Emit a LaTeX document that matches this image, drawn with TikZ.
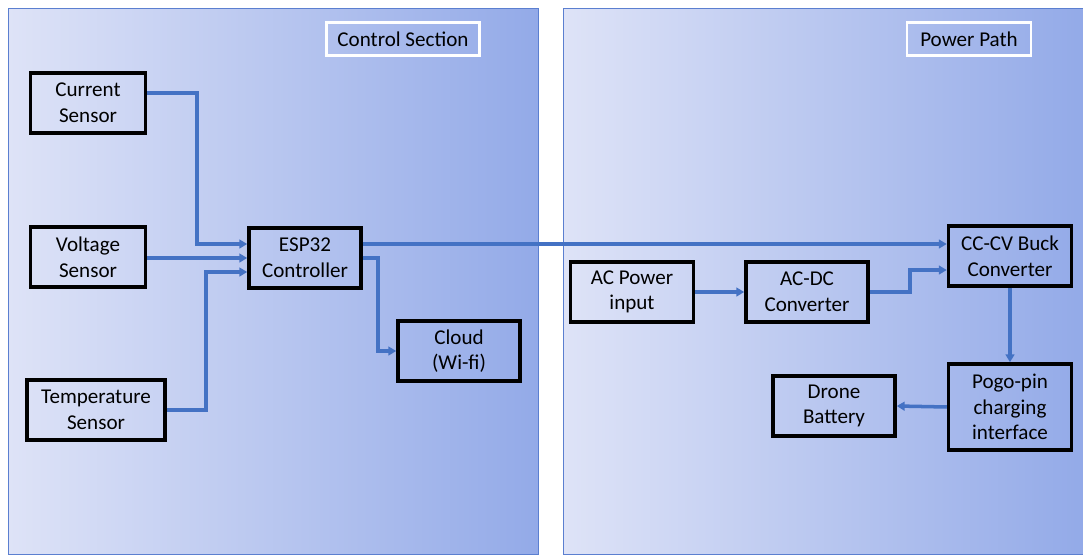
\documentclass[tikz,border=0pt]{standalone}
\usepackage{fontspec}
\setmainfont{Carlito}
\usepackage{xcolor}
\usetikzlibrary{arrows.meta,positioning}

\definecolor{panelL}{HTML}{DEE3F7}
\definecolor{panelR}{HTML}{93AAE8}
\definecolor{panelB}{HTML}{5B7FD0}
\definecolor{wire}{HTML}{4472C4}

\begin{document}
\begin{tikzpicture}[
  x=0.02cm, y=-0.02cm,
  panel/.style={draw=panelB, line width=0.5pt, shading=axis,
                left color=panelL, right color=panelR},
  tag/.style={rectangle, draw=white, line width=1.6pt, inner sep=0pt,
              minimum height=0.66cm, font=\fontsize{12}{14}\selectfont},
  block/.style={rectangle, draw=black, line width=2pt, align=center,
                minimum width=2.3cm, minimum height=1.2cm, inner sep=0pt,
                font=\fontsize{12}{14.6}\selectfont},
  arr/.style={-{Triangle[length=4.5pt, width=5pt]}, draw=wire, line width=2pt},
]
  \useasboundingbox (0,0) rectangle (1083,555);

  % Panels
  \path[panel] (8,8) rectangle (538,554);
  \path[panel] (563,8) rectangle (1084,554);
  \node[tag, minimum width=3.06cm] (ctl) at (403,39) {Control Section};
  \node[tag, minimum width=2.48cm] (pwr) at (969,39) {Power Path};

  % Control section
  \node[block] (cur) at (88,103) {Current\\Sensor};
  \node[block] (volt) at (88,257) {Voltage\\Sensor};
  \node[block, minimum width=2.76cm] (temp) at (96,410) {Temperature\\Sensor};
  \node[block, minimum width=2.24cm] (esp) at (305,258) {ESP32\\Controller};
  \node[block, minimum width=2.44cm] (cloud) at (459,351) {Cloud\\(Wi-fi)};

  % Power path
  \node[block, minimum width=2.46cm] (acin) at (632,292) {AC Power\\input};
  \node[block, minimum width=2.44cm] (acdc) at (807,292) {AC-DC\\Converter};
  \node[block, minimum width=2.46cm] (buck) at (1010,256) {CC-CV Buck\\Converter};
  \node[block, minimum width=2.46cm, minimum height=1.72cm] (pogo) at (1010,407)
    {Pogo-pin\\charging\\interface};
  \node[block, minimum width=2.44cm] (bat) at (834,406) {Drone\\Battery};

  % Arrows
  \draw[arr] (cur.east |- 0,93) -| (197,244) -- (esp.west |- 0,244);
  \draw[arr] (volt.east |- 0,258) -- (esp.west |- 0,258);
  \draw[arr] (temp.east) -| (206,272) -- (esp.west |- 0,272);
  \draw[arr] (esp.east |- 0,244) -- (buck.west |- 0,244);
  \draw[arr] (esp.east |- 0,258) -| (378,351) -- (cloud.west);
  \draw[arr] (acin.east) -- (acdc.west);
  \draw[arr] (acdc.east) -| (910,270) -- (buck.west |- 0,270);
  \draw[arr] (buck.south) -- (pogo.north);
  \draw[arr] (pogo.west) -- (bat.east);
\end{tikzpicture}
\end{document}
